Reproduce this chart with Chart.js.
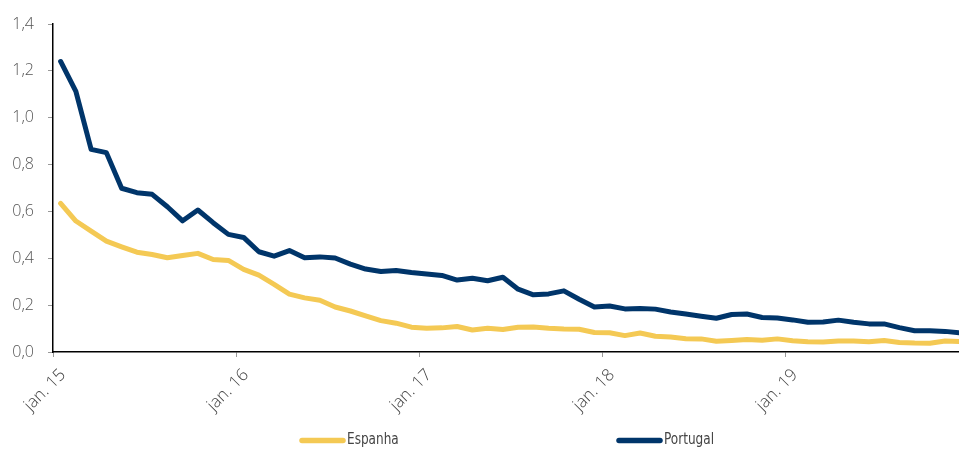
<!DOCTYPE html>
<html lang="pt">
<head>
<meta charset="utf-8">
<title>Espanha vs Portugal</title>
<script src="https://cdn.jsdelivr.net/npm/chart.js@4.4.1/dist/chart.umd.min.js"></script>
<style>
  html, body { margin: 0; padding: 0; background: #fff; }
  #wrap { width: 959px; height: 450px; }
</style>
</head>
<body>
<div id="wrap"><canvas id="yield_chart" width="959" height="450"></canvas></div>
<script>
// meses jan. 15 .. dez. 19
var meses = ['jan.', 'fev.', 'mar.', 'abr.', 'mai.', 'jun.', 'jul.', 'ago.', 'set.', 'out.', 'nov.', 'dez.'];
var anos = ['15', '16', '17', '18', '19'];

var espanha = [
	0.634, 0.559, 0.516, 0.473, 0.449, 0.426, 0.416, 0.402, 0.412, 0.421, 0.395, 0.391,
	0.353, 0.328, 0.289, 0.247, 0.231, 0.221, 0.192, 0.175, 0.154, 0.134, 0.123, 0.106,
	0.101, 0.103, 0.109, 0.094, 0.101, 0.096, 0.106, 0.107, 0.101, 0.098, 0.097, 0.083,
	0.082, 0.070, 0.081, 0.067, 0.064, 0.057, 0.056, 0.046, 0.049, 0.053, 0.050, 0.056,
	0.048, 0.044, 0.043, 0.047, 0.047, 0.044, 0.049, 0.041, 0.038, 0.037, 0.047, 0.045
];
var portugal = [
	1.240, 1.112, 0.865, 0.851, 0.699, 0.680, 0.673, 0.620, 0.560, 0.606, 0.552, 0.502,
	0.489, 0.428, 0.409, 0.433, 0.402, 0.406, 0.401, 0.375, 0.354, 0.344, 0.348, 0.339,
	0.333, 0.327, 0.307, 0.315, 0.304, 0.319, 0.268, 0.244, 0.248, 0.261, 0.225, 0.192,
	0.196, 0.184, 0.186, 0.183, 0.171, 0.162, 0.153, 0.144, 0.160, 0.162, 0.147, 0.145,
	0.137, 0.127, 0.128, 0.136, 0.127, 0.120, 0.120, 0.104, 0.091, 0.091, 0.088, 0.082
];

var cor_es = '#F4C954';
var cor_pt = '#00356A';

var labels = [];
for (var a = 0; a < anos.length; a++) {
	for (var m = 0; m < meses.length; m++) {
		labels.push(meses[m] + ' ' + anos[a]);
	}
}

// cada mes ocupa uma categoria; o ponto fica no meio dela
function pontos(valores) {
	return valores.map(function(v, i) {
		return { x: i + 0.5, y: v };
	});
}

var fonte_y = { family: "'Open Sans', sans-serif", size: 16, weight: 300 };
var fonte_x = { family: "'Open Sans', sans-serif", size: 17, weight: 300 };
var fonte_leg = "16px 'Liberation Sans Narrow', 'DejaVu Sans Condensed', sans-serif";

// legenda desenhada a mao, itens bem afastados
var legenda_plugin = {
	id: 'legenda',
	afterDraw: function(chart) {
		var c = chart.ctx;
		var itens = [
			{ x: 302, texto: 'Espanha', cor: cor_es },
			{ x: 619, texto: 'Portugal', cor: cor_pt }
		];
		c.save();
		c.font = fonte_leg;
		c.textBaseline = 'middle';
		c.textAlign = 'left';
		itens.forEach(function(it) {
			c.strokeStyle = it.cor;
			c.lineWidth = 5.5;
			c.lineCap = 'round';
			c.beginPath();
			c.moveTo(it.x, 440.5);
			c.lineTo(it.x + 41, 440.5);
			c.stroke();
			// texto estreito
			c.save();
			c.translate(it.x + 45, 440);
			c.scale(0.84, 1);
			c.fillStyle = '#444';
			c.fillText(it.texto, 0, 0);
			c.restore();
		});
		c.restore();
	}
};

var ctx = document.getElementById('yield_chart');
var chart = new Chart(ctx, {
	type: 'line',
	data: {
		datasets: [{
			label: 'Espanha',
			data: pontos(espanha),
			borderColor: cor_es,
			backgroundColor: cor_es,
			borderWidth: 5,
			pointRadius: 0,
			tension: 0,
			borderCapStyle: 'round',
			borderJoinStyle: 'round'
		}, {
			label: 'Portugal',
			data: pontos(portugal),
			borderColor: cor_pt,
			backgroundColor: cor_pt,
			borderWidth: 5,
			pointRadius: 0,
			tension: 0,
			borderCapStyle: 'round',
			borderJoinStyle: 'round'
		}]
	},
	options: {
		responsive: false,
		animation: false,
		layout: { padding: { top: 24, right: 0, bottom: 0, left: 0 } },
		plugins: {
			legend: { display: false },
			tooltip: { enabled: false }
		},
		scales: {
			x: {
				type: 'linear',
				min: 0,
				max: 906 / 15.25,
				afterBuildTicks: function(scale) {
					scale.ticks = anos.map(function(a, i) { return { value: i * 12 }; });
				},
				afterFit: function(scale) { scale.height = 98; },
				ticks: {
					autoSkip: false,
					maxRotation: 45,
					minRotation: 45,
					padding: 8,
					labelOffset: 10,
					color: '#444',
					font: fonte_x,
					callback: function(v) { return labels[Math.round(v)]; }
				},
				grid: {
					drawOnChartArea: false,
					drawTicks: true,
					tickLength: 5,
					tickColor: '#999'
				},
				border: { display: true, color: '#000', width: 1.5 }
			},
			y: {
				min: 0,
				max: 1.4,
				afterFit: function(scale) { scale.width = 53; },
				ticks: {
					stepSize: 0.2,
					padding: 14,
					color: '#555',
					font: fonte_y,
					callback: function(v) { return v.toFixed(1).replace('.', ','); }
				},
				grid: {
					drawOnChartArea: false,
					drawTicks: true,
					tickLength: 5,
					tickColor: '#999'
				},
				border: { display: true, color: '#000', width: 1.5 }
			}
		}
	},
	plugins: [legenda_plugin]
});
</script>
</body>
</html>
